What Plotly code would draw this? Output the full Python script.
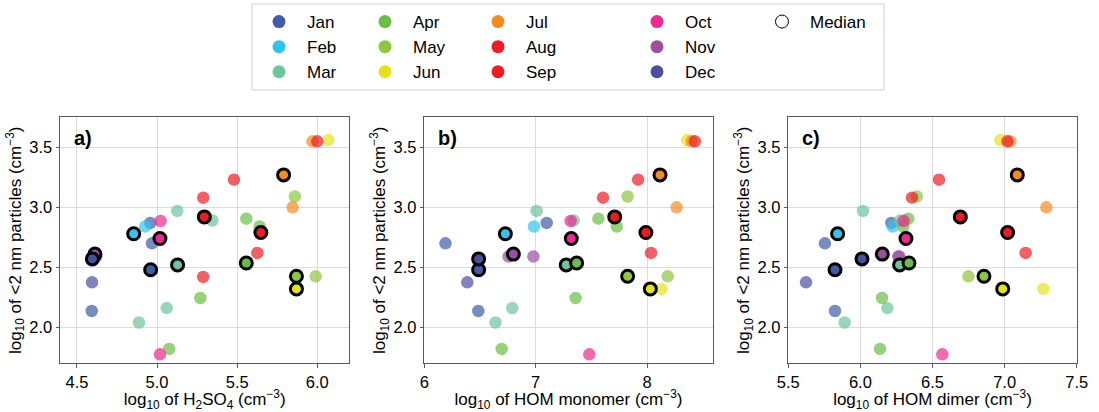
import plotly.graph_objects as go

# ---------------- data ----------------
months = ["Jan", "Feb", "Mar", "Apr", "May", "Jun",
          "Jul", "Aug", "Sep", "Oct", "Nov", "Dec"]
month_colors = ["#3f5ba9", "#33c3f0", "#6cc59c", "#6abd45", "#8dc63f", "#e6e21a",
                "#f68b1f", "#ed1c24", "#ed1c24", "#ec2a8f", "#9b4f9f", "#4a4fa0"]

# individual (non-median) points
pt_month = ["Jun", "Jul", "Aug", "Sep", "May", "Jul", "Aug", "Mar", "Mar", "Oct",
            "Jan", "Feb", "Apr", "Apr", "Jan", "Sep", "Nov", "Nov", "Sep", "May",
            "Jun", "Dec", "Apr", "Mar", "Jan", "Mar", "Apr", "Oct"]
pt_n2 = [3.56, 3.55, 3.55, 3.23, 3.09, 3.00, 3.08, 2.97, 2.89, 2.886,
         2.87, 2.84, 2.905, 2.84, 2.70, 2.62, 2.59, 2.59, 2.42, 2.425,
         2.32, 2.375, 2.244, 2.16, 2.136, 2.04, 1.82, 1.775]
pt_h2so4 = [6.07, 5.97, 6.00, 5.48, 5.86, 5.846, 5.288, 5.126, 5.345, 5.022,
            4.958, 4.926, 5.557, 5.64, 4.968, 5.626, 4.615, 4.62, 5.288, 5.99,
            5.875, 4.594, 5.27, 5.06, 4.592, 4.887, 5.076, 5.018]
pt_hom_mono = [8.36, 8.40, 8.43, 7.92, 7.826, 8.266, 7.605, 7.009, 7.341, 7.314,
               7.099, 6.985, 7.563, 7.728, 6.19, 8.036, 6.757, 6.98, 7.83, 8.186,
               8.13, 6.386, 7.359, 6.79, 6.485, 6.64, 6.695, 7.482]
pt_hom_dimer = [6.97, 7.04, 7.02, 6.545, 6.392, 7.29, 6.358, 6.018, 6.275, 6.30,
                6.215, 6.224, 6.332, 6.298, 5.754, 7.146, 6.263, 6.27, 6.86, 6.749,
                7.269, 5.623, 6.15, 6.187, 5.824, 5.891, 6.136, 6.568]

# monthly medians (Jan..Dec)
med_n2 = [2.48, 2.78, 2.52, 2.536, 2.425, 2.32, 3.27, 2.92, 2.79, 2.74, 2.61, 2.57]
med_h2so4 = [4.96, 4.854, 5.128, 5.557, 5.87, 5.87, 5.79, 5.295, 5.648, 5.018, 4.612, 4.596]
med_hom_mono = [6.488, 6.728, 7.275, 7.368, 7.826, 8.03, 8.117, 7.71, 7.99, 7.32, 6.80, 6.488]
med_hom_dimer = [5.824, 5.842, 6.272, 6.337, 6.857, 6.987, 7.088, 6.693, 7.021, 6.316, 6.152, 6.011]

panel_labels = ["a)", "b)", "c)"]
x_titles = ["log<sub>10</sub> of H<sub>2</sub>SO<sub>4</sub> (cm<sup>\u22123</sup>)",
            "log<sub>10</sub> of HOM monomer (cm<sup>\u22123</sup>)",
            "log<sub>10</sub> of HOM dimer (cm<sup>\u22123</sup>)"]
y_title = "log<sub>10</sub> of <2 nm particles (cm<sup>\u22123</sup>)"

# ---------------- figure ----------------
W, H = 1099, 412
FONT = "Liberation Sans, Arial, Helvetica, sans-serif"
fig = go.Figure()

panel_x = [pt_h2so4, pt_hom_mono, pt_hom_dimer]
panel_med = [med_h2so4, med_hom_mono, med_hom_dimer]
axis_ids = [("x", "y"), ("x2", "y2"), ("x3", "y3")]

for p in range(3):
    xa, ya = axis_ids[p]
    xs = panel_x[p]
    for m, col in zip(months, month_colors):
        idx = [i for i, mm in enumerate(pt_month) if mm == m]
        if not idx:
            continue
        fig.add_trace(go.Scatter(
            x=[xs[i] for i in idx], y=[pt_n2[i] for i in idx],
            mode="markers", xaxis=xa, yaxis=ya, showlegend=False,
            marker=dict(size=12.5, color=col, opacity=0.7, line=dict(width=0)),
            hoverinfo="skip"))
for p in range(3):
    xa, ya = axis_ids[p]
    fig.add_trace(go.Scatter(
        x=panel_med[p], y=med_n2, mode="markers", xaxis=xa, yaxis=ya,
        showlegend=False,
        marker=dict(size=12, color=month_colors, line=dict(color="black", width=3)),
        hoverinfo="skip"))

# legend entries (5 columns)
legend_cols = [months[0:3], months[3:6], months[6:9], months[9:12], ["Median"]]
legend_names = ["legend", "legend2", "legend3", "legend4", "legend5"]
for ci, names in enumerate(legend_cols):
    for nm in names:
        if nm == "Median":
            mk = dict(size=13, color="white", line=dict(color="black", width=1))
        else:
            mk = dict(size=13, color=month_colors[months.index(nm)], line=dict(width=0))
        fig.add_trace(go.Scatter(x=[None], y=[None], mode="markers", name=nm,
                                 marker=mk, legend=legend_names[ci], showlegend=True))

# ---------------- layout ----------------
x_dom = [(60, 349.3), (424.3, 712.7), (788.3, 1076.7)]
y_dom = (1 - 363.3 / H, 1 - 117.3 / H)
x_ranges = [[4.394, 6.2], [6.0, 8.59], [5.5, 7.5]]
x_dticks = [0.5, 1, 0.5]
x_fmt = [".1f", "d", ".1f"]

axis_common = dict(showline=True, linecolor="#5a5a5a", linewidth=1, mirror=True,
                   showgrid=True, gridcolor="#dcdcdc", gridwidth=1, zeroline=False,
                   ticks="outside", ticklen=3.5, tickwidth=1, tickcolor="#5a5a5a",
                   tickfont=dict(size=16.5, color="black", family=FONT),
                   automargin=False)

layout = dict(width=W, height=H, margin=dict(l=0, r=0, t=0, b=0),
              paper_bgcolor="white", plot_bgcolor="white",
              font=dict(family=FONT, color="black"))
for p in range(3):
    sx = "" if p == 0 else str(p + 1)
    layout["xaxis" + sx] = dict(
        axis_common, domain=[x_dom[p][0] / W, x_dom[p][1] / W], range=x_ranges[p],
        tick0=0, dtick=x_dticks[p], tickformat=x_fmt[p], anchor="y" + sx,
        title=dict(text=x_titles[p], font=dict(size=17), standoff=2))
    layout["yaxis" + sx] = dict(
        axis_common, domain=list(y_dom), range=[1.70, 3.75], tick0=0, dtick=0.5,
        tickformat=".1f", anchor="x" + sx,
        title=dict(text=y_title, font=dict(size=17), standoff=3))

leg_x_px = [251, 357, 470, 629, 754]
for ci, ln in enumerate(legend_names):
    layout[ln] = dict(x=leg_x_px[ci] / W, y=1 - 4 / H, xanchor="left", yanchor="top",
                      orientation="v", bgcolor="rgba(0,0,0,0)", borderwidth=0,
                      font=dict(size=17, family=FONT, color="black"),
                      itemsizing="trace", itemwidth=46)
fig.update_layout(**layout)

# legend frame
fig.add_shape(type="rect", xref="paper", yref="paper",
              x0=252 / W, x1=884 / W, y0=1 - 90 / H, y1=1 - 4 / H,
              line=dict(color="#d0d0d0", width=1), fillcolor="rgba(0,0,0,0)",
              layer="below")

# panel labels
for p in range(3):
    sx = "" if p == 0 else str(p + 1)
    fig.add_annotation(text="<b>%s</b>" % panel_labels[p], xref="x%s domain" % sx,
                       yref="y%s domain" % sx, x=0.04, y=0.915, xanchor="left",
                       yanchor="middle", showarrow=False,
                       font=dict(size=20, family=FONT, color="black"))

fig.write_html("out.html")
